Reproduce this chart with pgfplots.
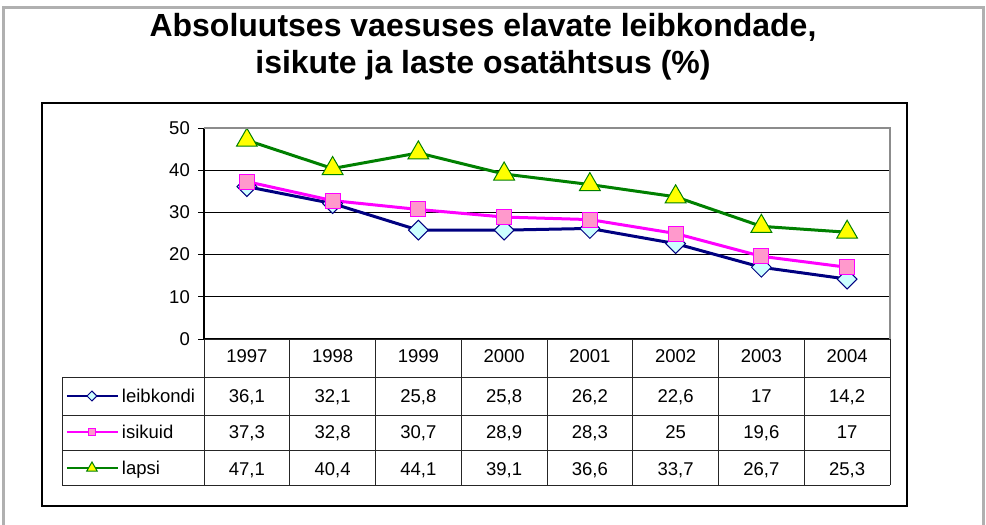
\documentclass[border=0pt]{standalone}
\usepackage{pgfplots}
\pgfplotsset{compat=1.18}
\usepackage{fontspec}
\setmainfont{Liberation Sans}
\definecolor{navyc}{RGB}{0,0,128}
\definecolor{lcyan}{RGB}{204,255,255}
\definecolor{magc}{RGB}{255,0,255}
\definecolor{pinkc}{RGB}{255,153,204}
\definecolor{greenc}{RGB}{0,128,0}
\definecolor{yellowc}{RGB}{255,255,0}
\definecolor{framegray}{RGB}{176,176,176}
\definecolor{plotgray}{RGB}{140,140,140}
\newcommand{\tfont}{\fontsize{18.5bp}{22bp}\selectfont}
\begin{document}
\begin{tikzpicture}
\path[use as bounding box] (0,0) rectangle (986bp,-525bp);
% outer frame
\draw[framegray, line width=3bp] (3bp,-530bp) -- (3bp,-7bp) -- (983bp,-7bp) -- (983bp,-530bp);
% inner frame
\draw[black, line width=1.5bp] (42bp,-103bp) rectangle (907bp,-506bp);
% title
\node[font=\fontsize{32bp}{38bp}\selectfont\bfseries, anchor=base, inner sep=0pt] at (483bp,-36bp) {Absoluutses vaesuses elavate leibkondade,};
\node[font=\fontsize{32bp}{38bp}\selectfont\bfseries, anchor=base, inner sep=0pt] at (483bp,-73bp) {isikute ja laste osatähtsus (\%)};

\begin{axis}[
  at={(204bp,-339bp)}, anchor=south west,
  scale only axis, width=686bp, height=211bp,
  xmin=-0.5, xmax=7.5, ymin=0, ymax=50,
  xtick=\empty, ytick={0,10,20,30,40,50},
  ymajorgrids, grid style={black, line width=0.8bp},
  axis x line*=bottom, axis y line*=left,
  axis line style={black, line width=1.2bp},
  tick align=outside, major tick length=6bp,
  tick style={black, line width=1bp},
  /pgf/number format/assume math mode=true,
  yticklabel style={font=\tfont, anchor=east, inner sep=0pt, xshift=-8bp},
  clip=false,
  legend style={at={(axis description cs:-0.2012,-0.2417)}, anchor=north west, draw=none, fill=none,
    inner sep=0pt, outer sep=0pt, row sep=24bp, column sep=3bp, font=\tfont,
    cells={anchor=west},
    nodes={inner sep=0pt, text height=12bp, text depth=0bp}},
  legend cell align=left,
  legend image code/.code={\draw[mark repeat=2, mark phase=2, every mark/.append style={scale=0.5}, line width=2bp] plot coordinates {(0bp,0bp) (25bp,0bp) (51bp,0bp)};},
]
\addplot[navyc, line width=3bp, mark=square*, mark size=7bp,
  mark options={rotate=45, fill=lcyan, draw=navyc, line width=1bp}]
  coordinates {(0,36.1) (1,32.1) (2,25.8) (3,25.8) (4,26.2) (5,22.6) (6,17) (7,14.2)};
\addlegendentry{leibkondi}
\addplot[magc, line width=3bp, mark=square*, mark size=7.5bp,
  mark options={fill=pinkc, draw=magc, line width=1bp}]
  coordinates {(0,37.3) (1,32.8) (2,30.7) (3,28.9) (4,28.3) (5,25) (6,19.6) (7,17)};
\addlegendentry{isikuid}
\addplot[greenc, line width=3bp, mark=triangle*, mark size=12bp,
  mark options={fill=yellowc, draw=greenc, line width=1bp}]
  coordinates {(0,47.1) (1,40.4) (2,44.1) (3,39.1) (4,36.6) (5,33.7) (6,26.7) (7,25.3)};
\addlegendentry{lapsi}
\end{axis}

% plot area gray top/right border
\draw[plotgray, line width=1.5bp] (204bp,-128bp) -- (890bp,-128bp) -- (890bp,-339bp);

% data table grid
\begin{scope}[black!85, line width=1bp]
\draw (204bp,-339bp) -- (890bp,-339bp);
\foreach \yy in {377,415,450,485} \draw (62bp,-\yy bp) -- (890bp,-\yy bp);
\draw (62bp,-377bp) -- (62bp,-485bp);
\foreach \xx in {204,289.75,375.5,461.25,547,632.75,718.5,804.25,890} \draw (\xx bp,-339bp) -- (\xx bp,-485bp);
\end{scope}

% table text
\begin{scope}[every node/.style={font=\tfont, anchor=base, inner sep=0pt}]
\foreach \t [count=\i from 0] in {1997,1998,1999,2000,2001,2002,2003,2004}
  \node at ({(204+85.75*(\i+0.5))*1bp},-362bp) {\t};
\foreach \t [count=\i from 0] in {{36,1},{32,1},{25,8},{25,8},{26,2},{22,6},17,{14,2}}
  \node at ({(204+85.75*(\i+0.5))*1bp},-402bp) {\t};
\foreach \t [count=\i from 0] in {{37,3},{32,8},{30,7},{28,9},{28,3},25,{19,6},17}
  \node at ({(204+85.75*(\i+0.5))*1bp},-438bp) {\t};
\foreach \t [count=\i from 0] in {{47,1},{40,4},{44,1},{39,1},{36,6},{33,7},{26,7},{25,3}}
  \node at ({(204+85.75*(\i+0.5))*1bp},-475bp) {\t};
\end{scope}
\end{tikzpicture}
\end{document}
